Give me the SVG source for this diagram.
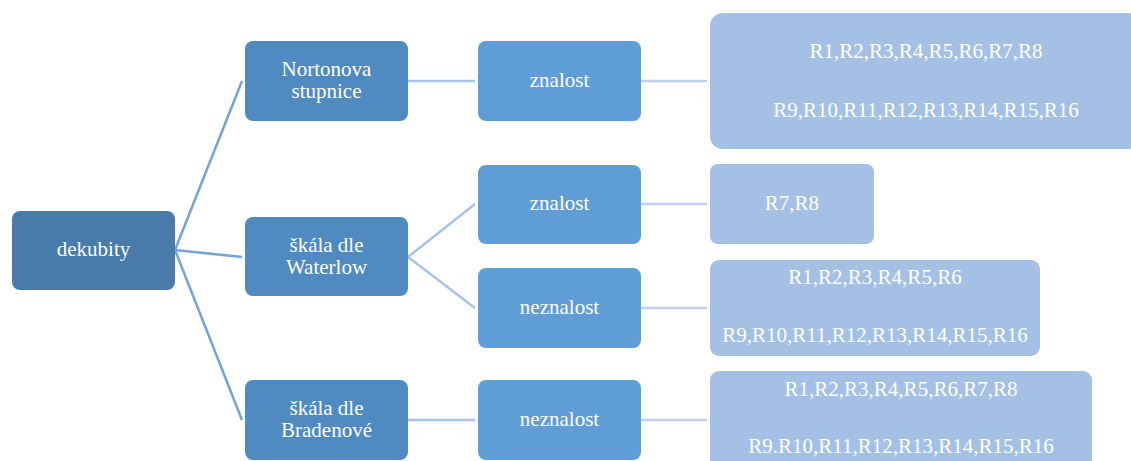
<svg xmlns="http://www.w3.org/2000/svg" width="1131" height="461" viewBox="0 0 1131 461">
<style>
text{font-family:"Liberation Serif","Times New Roman",serif;font-size:21px;fill:#fff;text-anchor:middle}
.root{fill:#487BAA}
.l1{fill:#4F8AC1}
.l2{fill:#5F9DD6}
.lf{fill:#A4C1E5}
.c1{stroke:#74A3D8;stroke-width:2.5;fill:none}
.c2{stroke:#A8C3E7;stroke-width:2.5;fill:none}
.c3{stroke:#BED2EE;stroke-width:2.5;fill:none}
</style>
<rect width="1131" height="461" fill="#fff"/>
<g id="connectors">
<path class="c1" d="M175,250 L242,81 M175,250 L242,257 M175,250 L242,420"/>
<path class="c2" d="M408,81 H475 M408,257 L475,204 M408,257 L475,308 M408,420 H475"/>
<path class="c3" d="M641,81 H707 M641,204 H707 M641,308 H707 M641,420 H707"/>
</g>
<g id="dekubity"><rect class="root" x="12" y="211" width="163" height="79" rx="8"/><text x="93.5" y="256">dekubity</text></g>
<g id="nortonova"><rect class="l1" x="245" y="41" width="163" height="80" rx="8"/><text x="326.5" y="76">Nortonova</text><text x="326.5" y="98">stupnice</text></g>
<g id="waterlow"><rect class="l1" x="245" y="217" width="163" height="79" rx="8"/><text x="326.5" y="252">škála dle</text><text x="326.5" y="274">Waterlow</text></g>
<g id="bradenove"><rect class="l1" x="245" y="380" width="163" height="80" rx="8"/><text x="326.5" y="415">škála dle</text><text x="326.5" y="437">Bradenové</text></g>
<g id="znalost1"><rect class="l2" x="478" y="41" width="163" height="80" rx="8"/><text x="559.5" y="87">znalost</text></g>
<g id="znalost2"><rect class="l2" x="478" y="165" width="163" height="79" rx="8"/><text x="559.5" y="210">znalost</text></g>
<g id="neznalost1"><rect class="l2" x="478" y="268" width="163" height="80" rx="8"/><text x="559.5" y="314">neznalost</text></g>
<g id="neznalost2"><rect class="l2" x="478" y="380" width="163" height="80" rx="8"/><text x="559.5" y="426">neznalost</text></g>
<g id="leaf1"><rect class="lf" x="710" y="13" width="432" height="136" rx="13"/><text x="926" y="58">R1,R2,R3,R4,R5,R6,R7,R8</text><text x="926" y="117">R9,R10,R11,R12,R13,R14,R15,R16</text></g>
<g id="leaf2"><rect class="lf" x="710" y="164" width="164" height="80" rx="8"/><text x="792" y="210">R7,R8</text></g>
<g id="leaf3"><rect class="lf" x="710" y="260" width="330" height="96" rx="9"/><text x="875" y="284">R1,R2,R3,R4,R5,R6</text><text x="875" y="342">R9,R10,R11,R12,R13,R14,R15,R16</text></g>
<g id="leaf4"><rect class="lf" x="710" y="371" width="382" height="100" rx="9"/><text x="901" y="396">R1,R2,R3,R4,R5,R6,R7,R8</text><text x="901" y="453">R9.R10,R11,R12,R13,R14,R15,R16</text></g>
</svg>
